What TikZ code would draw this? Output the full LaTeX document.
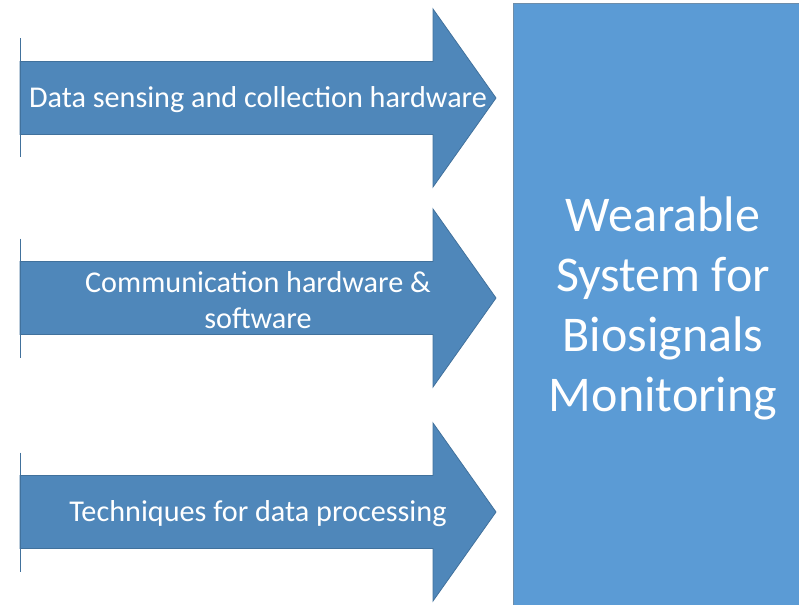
\documentclass[tikz,border=0pt]{standalone}
\usepackage{fontspec}
\setmainfont{Carlito}
\definecolor{arrowblue}{HTML}{4F87BA}
\definecolor{arrowedge}{HTML}{41719C}
\definecolor{boxblue}{HTML}{5B9BD5}

\begin{document}
\begin{tikzpicture}[x=1pt, y=-1pt,
  every node/.style={font=\fontsize{30.2}{36}\selectfont, text=white},
  arr/.style={fill=arrowblue, draw=arrowedge, line width=0.8pt, line join=miter},
  lbl/.style={align=center, inner sep=0pt},
  sysbox/.style={fill=boxblue, draw=gray!50!boxblue, line width=0.8pt}
]
\useasboundingbox (0,0) rectangle (799,604);
% the system block on the right
\draw[sysbox] (513,3) rectangle (815,610);
\node[lbl, font=\fontsize{50}{60}\selectfont] (sys) at (663,308) {Wearable\\System for\\Biosignals\\Monitoring};
% three block arrows
\foreach \y/\n/\t in {98/a1/{Data sensing and collection hardware},
                      298/a2/{Communication hardware \&\\software},
                      512/a3/{Techniques for data processing}} {
  \draw[arr] (20,\y-36.5) -- (433,\y-36.5) -- (433,\y-89) -- (496,\y)
    -- (433,\y+89) -- (433,\y+36.5) -- (20,\y+36.5) -- cycle;
  \draw[arrowedge, line width=0.8pt] (20,\y-59.5) -- (20,\y+59.5);
  \node[lbl] (\n) at (258,\y+2) {\t};
}
\end{tikzpicture}
\end{document}
